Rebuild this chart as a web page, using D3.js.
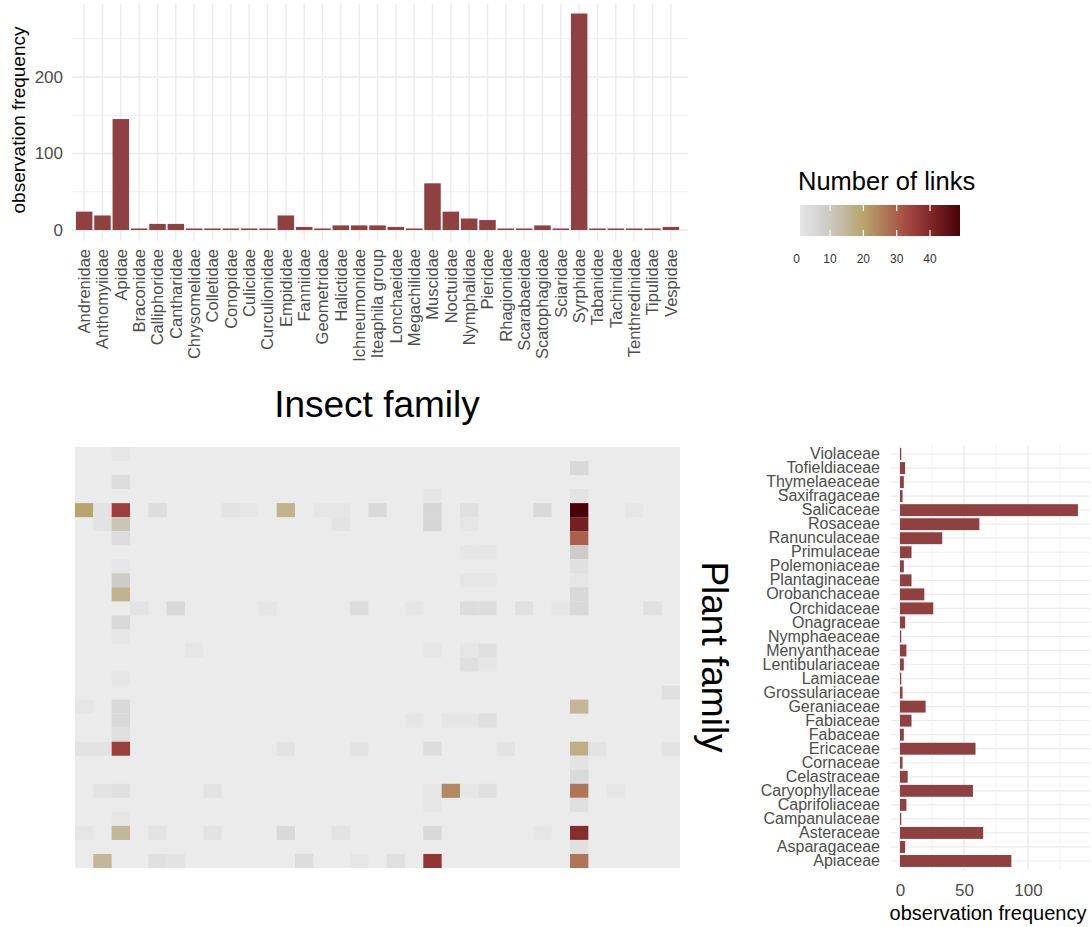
<!DOCTYPE html>
<html>
<head>
<meta charset="utf-8">
<script src="https://cdn.jsdelivr.net/npm/d3@7"></script>
<style>
  body { margin: 0; background: #fff; }
  svg { font-family: "Liberation Sans", Arial, sans-serif; }
</style>
</head>
<body>
<svg id="chart"></svg>
<script>
// insect families (top bar chart + heatmap columns)
const insectFamilies = ["Andrenidae", "Anthomyiidae", "Apidae", "Braconidae", "Calliphoridae", "Cantharidae",
  "Chrysomelidae", "Colletidae", "Conopidae", "Culicidae", "Curculionidae", "Empididae", "Fanniidae",
  "Geometridae", "Halictidae", "Ichneumonidae", "Iteaphila group", "Lonchaeidae", "Megachilidae", "Muscidae",
  "Noctuidae", "Nymphalidae", "Pieridae", "Rhagionidae", "Scarabaeidae", "Scatophagidae", "Sciaridae",
  "Syrphidae", "Tabanidae", "Tachinidae", "Tenthredinidae", "Tipulidae", "Vespidae"];
const insectFreq = [24, 19, 145, 2, 8, 8, 2, 2, 2, 2, 2, 19, 4, 2, 6, 6, 6, 4, 2, 61, 24, 15, 13, 2, 2, 6, 2, 283, 2, 2, 2, 2, 4];

// plant families (right bar chart + heatmap rows), alphabetical
const plantFamilies = ["Apiaceae", "Asparagaceae", "Asteraceae", "Campanulaceae", "Caprifoliaceae", "Caryophyllaceae",
  "Celastraceae", "Cornaceae", "Ericaceae", "Fabaceae", "Fabiaceae", "Geraniaceae", "Grossulariaceae", "Lamiaceae",
  "Lentibulariaceae", "Menyanthaceae", "Nymphaeaceae", "Onagraceae", "Orchidaceae", "Orobanchaceae",
  "Plantaginaceae", "Polemoniaceae", "Primulaceae", "Ranunculaceae", "Rosaceae", "Salicaceae", "Saxifragaceae",
  "Thymelaeaceae", "Tofieldiaceae", "Violaceae"];
const plantFreq = [87, 4, 65, 1, 5, 57, 6, 2, 59, 3, 9, 20, 2, 1, 3, 5, 1, 4, 26, 19, 9, 3, 9, 33, 62, 139, 2, 3, 4, 1];

// number of links : [plant, insect, n]
const links = [
  ["Violaceae", "Apidae", 1],
  ["Tofieldiaceae", "Syrphidae", 5],
  ["Thymelaeaceae", "Apidae", 4],
  ["Saxifragaceae", "Muscidae", 1], ["Saxifragaceae", "Syrphidae", 2],
  ["Salicaceae", "Andrenidae", 20], ["Salicaceae", "Anthomyiidae", 2], ["Salicaceae", "Apidae", 35],
  ["Salicaceae", "Calliphoridae", 4], ["Salicaceae", "Conopidae", 2], ["Salicaceae", "Culicidae", 1],
  ["Salicaceae", "Empididae", 16], ["Salicaceae", "Geometridae", 1], ["Salicaceae", "Halictidae", 1],
  ["Salicaceae", "Iteaphila group", 5], ["Salicaceae", "Muscidae", 6], ["Salicaceae", "Nymphalidae", 3],
  ["Salicaceae", "Scatophagidae", 5], ["Salicaceae", "Syrphidae", 49], ["Salicaceae", "Tenthredinidae", 1],
  ["Rosaceae", "Anthomyiidae", 2], ["Rosaceae", "Apidae", 11], ["Rosaceae", "Halictidae", 2],
  ["Rosaceae", "Muscidae", 6], ["Rosaceae", "Nymphalidae", 1], ["Rosaceae", "Syrphidae", 42],
  ["Ranunculaceae", "Apidae", 4], ["Ranunculaceae", "Syrphidae", 30],
  ["Primulaceae", "Nymphalidae", 1], ["Primulaceae", "Pieridae", 1], ["Primulaceae", "Syrphidae", 9],
  ["Polemoniaceae", "Apidae", 1], ["Polemoniaceae", "Syrphidae", 3],
  ["Plantaginaceae", "Apidae", 9], ["Plantaginaceae", "Nymphalidae", 1], ["Plantaginaceae", "Pieridae", 1],
  ["Plantaginaceae", "Syrphidae", 1],
  ["Orobanchaceae", "Apidae", 16], ["Orobanchaceae", "Syrphidae", 5],
  ["Orchidaceae", "Braconidae", 2], ["Orchidaceae", "Cantharidae", 5], ["Orchidaceae", "Curculionidae", 1],
  ["Orchidaceae", "Ichneumonidae", 4], ["Orchidaceae", "Megachilidae", 1], ["Orchidaceae", "Nymphalidae", 4],
  ["Orchidaceae", "Pieridae", 4], ["Orchidaceae", "Scarabaeidae", 3], ["Orchidaceae", "Sciaridae", 1],
  ["Orchidaceae", "Syrphidae", 5], ["Orchidaceae", "Tipulidae", 3],
  ["Onagraceae", "Apidae", 5],
  ["Nymphaeaceae", "Apidae", 1],
  ["Menyanthaceae", "Chrysomelidae", 1], ["Menyanthaceae", "Muscidae", 1], ["Menyanthaceae", "Nymphalidae", 1],
  ["Menyanthaceae", "Pieridae", 3],
  ["Lentibulariaceae", "Nymphalidae", 3], ["Lentibulariaceae", "Pieridae", 1],
  ["Lamiaceae", "Apidae", 1],
  ["Grossulariaceae", "Vespidae", 3],
  ["Geraniaceae", "Andrenidae", 1], ["Geraniaceae", "Apidae", 5], ["Geraniaceae", "Syrphidae", 15],
  ["Fabiaceae", "Apidae", 5], ["Fabiaceae", "Megachilidae", 1], ["Fabiaceae", "Noctuidae", 1],
  ["Fabiaceae", "Nymphalidae", 1], ["Fabiaceae", "Pieridae", 3],
  ["Fabaceae", "Apidae", 3],
  ["Ericaceae", "Andrenidae", 2], ["Ericaceae", "Anthomyiidae", 2], ["Ericaceae", "Apidae", 35],
  ["Ericaceae", "Empididae", 2], ["Ericaceae", "Ichneumonidae", 2], ["Ericaceae", "Muscidae", 4],
  ["Ericaceae", "Rhagionidae", 2], ["Ericaceae", "Syrphidae", 17], ["Ericaceae", "Tabanidae", 2],
  ["Ericaceae", "Vespidae", 2],
  ["Cornaceae", "Syrphidae", 2],
  ["Celastraceae", "Syrphidae", 5],
  ["Caryophyllaceae", "Anthomyiidae", 2], ["Caryophyllaceae", "Apidae", 3], ["Caryophyllaceae", "Colletidae", 2],
  ["Caryophyllaceae", "Muscidae", 1], ["Caryophyllaceae", "Noctuidae", 24], ["Caryophyllaceae", "Nymphalidae", 1],
  ["Caryophyllaceae", "Pieridae", 3], ["Caryophyllaceae", "Syrphidae", 27], ["Caryophyllaceae", "Tachinidae", 1],
  ["Caprifoliaceae", "Muscidae", 1], ["Caprifoliaceae", "Syrphidae", 3],
  ["Campanulaceae", "Apidae", 1],
  ["Asteraceae", "Andrenidae", 1], ["Asteraceae", "Apidae", 15], ["Asteraceae", "Calliphoridae", 2],
  ["Asteraceae", "Colletidae", 2], ["Asteraceae", "Empididae", 5], ["Asteraceae", "Halictidae", 2],
  ["Asteraceae", "Muscidae", 5], ["Asteraceae", "Scatophagidae", 1], ["Asteraceae", "Syrphidae", 39],
  ["Asparagaceae", "Syrphidae", 3],
  ["Apiaceae", "Anthomyiidae", 15], ["Apiaceae", "Calliphoridae", 3], ["Apiaceae", "Cantharidae", 2],
  ["Apiaceae", "Fanniidae", 4], ["Apiaceae", "Ichneumonidae", 1], ["Apiaceae", "Lonchaeidae", 3],
  ["Apiaceae", "Muscidae", 37], ["Apiaceae", "Syrphidae", 27]
];

const legendTicks = [0, 10, 20, 30, 40];

const barColor = "#8f4040";
const gridColor = "#ebebeb";
const axisText = "#4d4d4d";

const svg = d3.select("#chart").attr("width", 1092).attr("height", 927);

// colour scale for links
const color = d3.scaleLinear()
  .domain([1, 8, 20, 34, 49])
  .range(["#e6e6e6", "#d0d0d0", "#b8a56d", "#a3443f", "#4b0008"]);

// ---------- top bar chart: insects ----------
const xTop = d3.scaleBand().domain(insectFamilies).range([75, 680]).paddingInner(0.1).paddingOuter(0.05);
const yTop = d3.scaleLinear().domain([0, 300]).range([230, 0.5]);

const topChart = svg.append("g");
topChart.selectAll(".hminor").data([50, 150, 250]).enter().append("line")
  .attr("x1", 72).attr("x2", 688).attr("y1", d => yTop(d)).attr("y2", d => yTop(d))
  .attr("stroke", gridColor).attr("stroke-width", 0.8);
topChart.selectAll(".hmajor").data([0, 100, 200]).enter().append("line")
  .attr("x1", 72).attr("x2", 688).attr("y1", d => yTop(d)).attr("y2", d => yTop(d))
  .attr("stroke", gridColor).attr("stroke-width", 1.4);
topChart.selectAll(".vgrid").data(insectFamilies).enter().append("line")
  .attr("x1", d => xTop(d) + xTop.bandwidth() / 2).attr("x2", d => xTop(d) + xTop.bandwidth() / 2)
  .attr("y1", 4).attr("y2", 241)
  .attr("stroke", gridColor).attr("stroke-width", 1.4);

topChart.selectAll(".bar").data(insectFamilies).enter().append("rect")
  .attr("x", d => xTop(d))
  .attr("width", xTop.bandwidth())
  .attr("y", (d, i) => yTop(insectFreq[i]))
  .attr("height", (d, i) => yTop(0) - yTop(insectFreq[i]))
  .attr("fill", barColor);

const yAxTop = topChart.append("g").attr("transform", "translate(68,0)")
  .call(d3.axisLeft(yTop).tickValues([0, 100, 200]).tickSize(0).tickPadding(5));
yAxTop.select(".domain").remove();
yAxTop.selectAll("text").attr("font-size", 17).attr("fill", axisText).style("font-family", "Liberation Sans, Arial, sans-serif");

const xAxTop = topChart.append("g").attr("transform", "translate(0,241)")
  .call(d3.axisBottom(xTop).tickSize(0));
xAxTop.select(".domain").remove();
xAxTop.selectAll("text")
  .attr("transform", "rotate(-90)")
  .attr("x", -8).attr("y", 0).attr("dy", "0.35em")
  .style("text-anchor", "end")
  .attr("font-size", 16.5).attr("fill", axisText).style("font-family", "Liberation Sans, Arial, sans-serif");

svg.append("text")
  .attr("transform", "translate(18,120) rotate(-90)")
  .attr("text-anchor", "middle").attr("dy", "0.35em")
  .attr("font-size", 19).attr("fill", "#000")
  .text("observation frequency");

svg.append("text")
  .attr("x", 377).attr("y", 417)
  .attr("text-anchor", "middle")
  .attr("font-size", 37).attr("fill", "#000")
  .text("Insect family");

// ---------- legend ----------
const legX = d3.scaleLinear().domain([1, 49]).range([800, 960]);
const grad = svg.append("defs").append("linearGradient").attr("id", "linkGrad");
d3.range(0, 21).forEach(i => {
  const v = 1 + i * 48 / 20;
  grad.append("stop").attr("offset", (i * 5) + "%").attr("stop-color", color(v));
});
svg.append("text").attr("x", 798).attr("y", 190)
  .attr("font-size", 25.5).attr("fill", "#000").text("Number of links");
svg.append("rect").attr("x", 800).attr("y", 205).attr("width", 160).attr("height", 31)
  .attr("fill", "url(#linkGrad)");
legendTicks.filter(d => d > 0).forEach(t => {
  svg.append("line").attr("x1", legX(t)).attr("x2", legX(t)).attr("y1", 205).attr("y2", 211)
    .attr("stroke", "#fff").attr("stroke-width", 1.2);
  svg.append("line").attr("x1", legX(t)).attr("x2", legX(t)).attr("y1", 230).attr("y2", 236)
    .attr("stroke", "#fff").attr("stroke-width", 1.2);
});
svg.selectAll(".legLab").data(legendTicks).enter().append("text")
  .attr("x", d => legX(d)).attr("y", 263)
  .attr("text-anchor", "middle").attr("font-size", 12).attr("fill", "#333")
  .text(d => d);

// ---------- heatmap ----------
const plantsTopDown = plantFamilies.slice().reverse();
const xHeat = d3.scaleBand().domain(insectFamilies).range([75, 680]);
const yHeat = d3.scaleBand().domain(plantsTopDown).range([447, 868]);

svg.append("rect").attr("x", 75).attr("y", 447).attr("width", 605).attr("height", 421)
  .attr("fill", "#ebebeb");
svg.append("g").selectAll("rect").data(links).enter().append("rect")
  .attr("x", d => xHeat(d[1]))
  .attr("y", d => yHeat(d[0]))
  .attr("width", xHeat.bandwidth())
  .attr("height", yHeat.bandwidth())
  .attr("fill", d => color(d[2]));

// ---------- right bar chart: plants ----------
const xR = d3.scaleLinear().domain([0, 140]).range([900, 1079.2]);
const yR = d3.scaleBand().domain(plantsTopDown).range([447, 868]).paddingInner(0.15).paddingOuter(0.075);

const right = svg.append("g");
right.selectAll(".rminor").data([25, 75, 125]).enter().append("line")
  .attr("x1", d => xR(d)).attr("x2", d => xR(d)).attr("y1", 445).attr("y2", 870)
  .attr("stroke", gridColor).attr("stroke-width", 0.8);
right.selectAll(".rmajor").data([0, 50, 100]).enter().append("line")
  .attr("x1", d => xR(d)).attr("x2", d => xR(d)).attr("y1", 445).attr("y2", 870)
  .attr("stroke", gridColor).attr("stroke-width", 1.4);
right.selectAll(".rh").data(plantsTopDown).enter().append("line")
  .attr("x1", 891).attr("x2", 1090)
  .attr("y1", d => yR(d) + yR.bandwidth() / 2).attr("y2", d => yR(d) + yR.bandwidth() / 2)
  .attr("stroke", gridColor).attr("stroke-width", 1.2);

right.selectAll(".pbar").data(plantFamilies).enter().append("rect")
  .attr("x", xR(0))
  .attr("y", d => yR(d))
  .attr("height", yR.bandwidth())
  .attr("width", (d, i) => xR(plantFreq[i]) - xR(0))
  .attr("fill", barColor);

const yAxR = right.append("g").attr("transform", "translate(880,0)")
  .call(d3.axisLeft(yR).tickSize(0).tickPadding(0));
yAxR.select(".domain").remove();
yAxR.selectAll("text").attr("font-size", 16).attr("fill", axisText).style("font-family", "Liberation Sans, Arial, sans-serif");

const xAxR = right.append("g").attr("transform", "translate(0,880)")
  .call(d3.axisBottom(xR).tickValues([0, 50, 100]).tickSize(0).tickPadding(4));
xAxR.select(".domain").remove();
xAxR.selectAll("text").attr("font-size", 17).attr("fill", axisText).style("font-family", "Liberation Sans, Arial, sans-serif");

svg.append("text")
  .attr("x", 988).attr("y", 920)
  .attr("text-anchor", "middle")
  .attr("font-size", 20).attr("fill", "#000")
  .text("observation frequency");

svg.append("text")
  .attr("transform", "translate(715,657) rotate(90)")
  .attr("text-anchor", "middle").attr("dy", "0.35em")
  .attr("font-size", 37).attr("fill", "#000")
  .text("Plant family");
</script>
</body>
</html>
